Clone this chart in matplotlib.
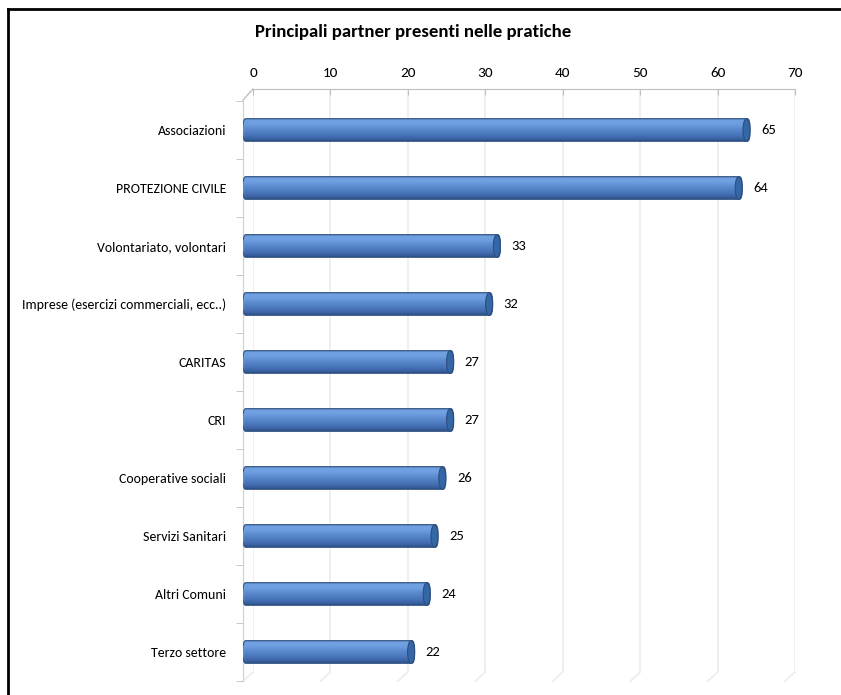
import numpy as np
import matplotlib
matplotlib.use("Agg")
import matplotlib.pyplot as plt
from matplotlib import font_manager
from matplotlib.patches import FancyBboxPatch, Ellipse
from matplotlib.lines import Line2D
from matplotlib.transforms import blended_transform_factory

# font tipo Calibri, se c'e'
installati = {f.name for f in font_manager.fontManager.ttflist}
if 'Carlito' in installati:
    plt.rcParams['font.family'] = ['Carlito', 'DejaVu Sans']
    plt.rcParams['font.stretch'] = 'normal'
else:
    plt.rcParams['font.family'] = ['DejaVu Sans']
    plt.rcParams['font.stretch'] = 'condensed'

# dati
categorie = ["Associazioni", "PROTEZIONE CIVILE", "Volontariato, volontari",
             "Imprese (esercizi commerciali, ecc..)", "CARITAS", "CRI",
             "Cooperative sociali", "Servizi Sanitari", "Altri Comuni", "Terzo settore"]
valori = [65, 64, 33, 32, 27, 27, 26, 25, 24, 22]
tick_x = [0, 10, 20, 30, 40, 50, 60, 70]
titolo = "Principali partner presenti nelle pratiche"

W, H = 841, 695
fig = plt.figure(figsize=(W / 100, H / 100), dpi=100)


def box(x0, y_top, x1, y_bot):
    # rettangolo in pixel (origine in alto a sinistra) -> frazioni figura
    return [x0 / W, 1 - y_bot / H, (x1 - x0) / W, (y_bot - y_top) / H]


# piano di fondo: asse in alto e griglia
axb = fig.add_axes(box(253, 89, 795, 672))
axb.set_xlim(0, 70)
axb.set_ylim(0, 1)
axb.set_xticks(tick_x)
axb.xaxis.tick_top()
axb.tick_params(axis='x', direction='in', length=4, color='#bfbfbf', labelsize=11,
                pad=7, labelcolor='black')
axb.set_yticks([])
for s in ['left', 'right', 'bottom']:
    axb.spines[s].set_visible(False)
axb.spines['top'].set_color('#bfbfbf')
axb.grid(axis='x', color='#ececec', lw=1.2)
axb.patch.set_alpha(0)

# linee oblique in basso (prospettiva)
tr = blended_transform_factory(axb.transData, axb.transAxes)
for t in tick_x:
    axb.add_line(Line2D([t, t - 1.3], [0, -0.016], transform=tr, color='#ececec',
                        lw=1.2, clip_on=False))
# linea obliqua in alto a sinistra
axb.add_line(Line2D([0, -1.3], [1, 0.981], transform=tr, color='#bfbfbf', lw=1,
                    clip_on=False))

# piano frontale: barre cilindriche
ax = fig.add_axes(box(243, 101, 789, 681))
ax.patch.set_alpha(0)
n = len(categorie)
y = np.arange(n)

grad = np.array([0.0, 0.12, 0.3, 0.45, 0.6, 0.75, 0.9, 1.0])
cols = np.array([
    [0.38, 0.56, 0.82],
    [0.45, 0.64, 0.89],
    [0.42, 0.61, 0.87],
    [0.36, 0.55, 0.81],
    [0.32, 0.50, 0.77],
    [0.28, 0.45, 0.72],
    [0.23, 0.39, 0.64],
    [0.18, 0.32, 0.54],
])
tt = np.linspace(0, 1, 64)
img = np.stack([np.interp(tt, grad, cols[:, k]) for k in range(3)], axis=1)
img = img[:, None, :]

h = 0.39
for yi, v in zip(y, valori):
    patch = FancyBboxPatch((0, yi - h / 2), v, h,
                           boxstyle="round,pad=0,rounding_size=0.35",
                           mutation_aspect=h / 0.9, lw=0.8, ec='#2c4f80',
                           fc='none', zorder=3)
    ax.add_patch(patch)
    im = ax.imshow(img, extent=[0, v, yi + h / 2, yi - h / 2], aspect='auto',
                   interpolation='bilinear', zorder=2)
    im.set_clip_path(patch)
    ax.add_patch(Ellipse((v - 0.45, yi), 0.9, h, fc='#3566a6', ec='#2c4f80',
                         lw=0.8, zorder=4))
    ax.annotate(str(v), (v, yi), xytext=(8, 0), textcoords='offset points',
                ha='left', va='center', fontsize=10.5)

ax.set_xlim(0, 70)
ax.set_ylim(n - 0.5, -0.5)
ax.set_xticks([])
ax.set_yticks(y)
ax.set_yticklabels(categorie, fontsize=10)
ax.set_yticks(np.arange(n + 1) - 0.5, minor=True)
ax.tick_params(axis='y', which='major', length=0, pad=12)
ax.tick_params(axis='y', which='minor', length=5, color='#bfbfbf', direction='out')
for s in ['top', 'right', 'bottom']:
    ax.spines[s].set_visible(False)
ax.spines['left'].set_color('#d0d0d0')

fig.text(413 / W, 1 - 32 / H, titolo, ha='center', va='center', fontsize=13.5,
         fontweight='bold')

# cornice
fig.add_artist(Line2D([8 / W, 8 / W], [0, 1 - 9 / H], color='black', lw=2))
fig.add_artist(Line2D([8 / W, 1], [1 - 9 / H, 1 - 9 / H], color='black', lw=2))

fig.savefig("out.png", dpi=100)
